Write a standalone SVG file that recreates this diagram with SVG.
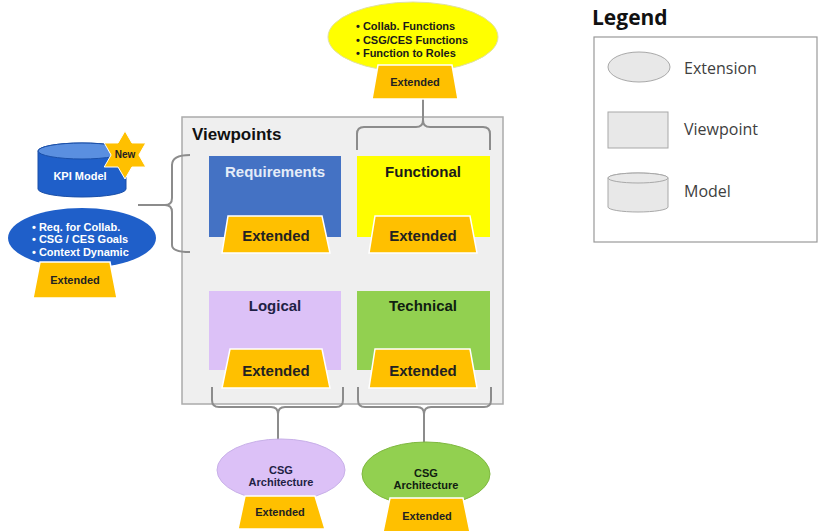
<svg xmlns="http://www.w3.org/2000/svg" width="821" height="531" viewBox="0 0 821 531">
<style>
.b{font-family:"Liberation Sans",Arial,sans-serif;font-weight:bold}
.ext{fill:#ffc000;stroke:#ffffff;stroke-width:1.5}
.et{font-family:"Liberation Sans",Arial,sans-serif;font-weight:bold;fill:#222;text-anchor:middle}
.br{fill:none;stroke:#8c8c8c;stroke-width:2}
.lg{font-family:"Open Sans","Noto Sans",sans-serif;fill:#404040;font-size:16px}
</style>
<rect width="821" height="531" fill="#ffffff"/>
<g id="viewpoints">
<rect x="182" y="117" width="321" height="287" fill="#efefef" stroke="#ababab" stroke-width="1.5"/>
<text x="192" y="140" class="b" font-size="17" fill="#111">Viewpoints</text>
</g>
<g id="connectors">
<path class="br" d="M357,150 L357,134 Q357,127 364,127 L416,127 Q423,127 423,120 Q423,127 430,127 L483,127 Q490,127 490,134 L490,150"/>
<line class="br" x1="423" y1="120" x2="423" y2="98"/>
<path class="br" d="M190,155 Q172,155 172,165 L172,198 Q172,205 165,205 Q172,205 172,212 L172,245 Q172,252 190,252"/>
<line class="br" x1="138" y1="205" x2="165" y2="205"/>
<path class="br" d="M212,387 L212,400 Q212,407 219,407 L271,407 Q278,407 278,414 Q278,407 285,407 L336,407 Q343,407 343,400 L343,387"/>
<line class="br" x1="278" y1="414" x2="278" y2="440"/>
<path class="br" d="M358,387 L358,400 Q358,407 365,407 L417,407 Q424,407 424,414 Q424,407 431,407 L484,407 Q491,407 491,400 L491,387"/>
<line class="br" x1="424" y1="414" x2="424" y2="443"/>
</g>
<g id="requirements">
<rect x="209" y="156" width="132" height="81" fill="#4472c4"/>
<text x="275" y="177" class="b" font-size="15" fill="#e4ecf8" text-anchor="middle">Requirements</text>
<polygon class="ext" points="228,216 322,216 330,253 222,253"/>
<text x="276" y="241" class="et" font-size="15">Extended</text>
</g>
<g id="functional">
<rect x="357" y="156" width="133" height="81" fill="#ffff00"/>
<text x="423" y="177" class="b" font-size="15" fill="#1a1a1a" text-anchor="middle">Functional</text>
<polygon class="ext" points="375,216 470,216 477,253 369,253"/>
<text x="423" y="241" class="et" font-size="15">Extended</text>
</g>
<g id="logical">
<rect x="209" y="291" width="132" height="79" fill="#dcc1f7"/>
<text x="275" y="311" class="b" font-size="15" fill="#1f1f45" text-anchor="middle">Logical</text>
<polygon class="ext" points="230,349 322,349 330,388 222,388"/>
<text x="276" y="376" class="et" font-size="15">Extended</text>
</g>
<g id="technical">
<rect x="357" y="291" width="133" height="79" fill="#92d050"/>
<text x="423" y="311" class="b" font-size="15" fill="#102010" text-anchor="middle">Technical</text>
<polygon class="ext" points="375,349 470,349 477,388 369,388"/>
<text x="423" y="376" class="et" font-size="15">Extended</text>
</g>
<g id="functional-extension">
<ellipse cx="413" cy="37" rx="85" ry="35" fill="#ffff00" stroke="#e0e0a0" stroke-width="1"/>
<text class="b" font-size="11" fill="#1a1a1a">
<tspan x="356" y="30">• Collab. Functions</tspan>
<tspan x="356" y="44">• CSG/CES Functions</tspan>
<tspan x="356" y="57">• Function to Roles</tspan>
</text>
<polygon class="ext" points="378,65 452,65 458,99 372,99"/>
<text x="415" y="86" class="et" font-size="11">Extended</text>
</g>
<g id="kpi-model">
<path d="M38,151 A44,8 0 0 1 126,151 L126,189 A44,8 0 0 1 38,189 Z" fill="#1f5fc9" stroke="#1a4fa8" stroke-width="1"/>
<ellipse cx="82" cy="151" rx="44" ry="8" fill="#5a8fe0" stroke="#1a4fa8" stroke-width="1"/>
<text x="80" y="180" class="b" font-size="11" fill="#ffffff" text-anchor="middle">KPI Model</text>
</g>
<g id="new-star">
<polygon points="125,131 131.95,142.96 145.78,143 138.9,155 145.78,167 131.95,167.04 125,179 118.05,167.04 104.22,167 111.1,155 104.22,143 118.05,142.96" fill="#ffc000" stroke="#ffffff" stroke-width="1"/>
<text x="125" y="158" class="b" font-size="10" fill="#222" text-anchor="middle">New</text>
</g>
<g id="requirements-extension">
<ellipse cx="82" cy="238" rx="74" ry="30" fill="#1f5fc9"/>
<text class="b" font-size="11" fill="#ffffff">
<tspan x="32" y="231">• Req. for Collab.</tspan>
<tspan x="32" y="243">• CSG / CES Goals</tspan>
<tspan x="32" y="256">• Context Dynamic</tspan>
</text>
<polygon class="ext" points="40,262 110,262 117,298 33,298"/>
<text x="75" y="284" class="et" font-size="11">Extended</text>
</g>
<g id="logical-extension">
<ellipse cx="281" cy="470" rx="64" ry="31" fill="#dcc1f7" stroke="#c8b0e8" stroke-width="1"/>
<text x="281" y="474" class="b" font-size="11" fill="#1f1f45" text-anchor="middle">CSG</text>
<text x="281" y="486" class="b" font-size="11" fill="#1f1f45" text-anchor="middle">Architecture</text>
<polygon class="ext" points="245,496 315,496 325,529 238,529"/>
<text x="280" y="516" class="et" font-size="11">Extended</text>
</g>
<g id="technical-extension">
<ellipse cx="426" cy="474" rx="64" ry="32" fill="#92d050" stroke="#7fb840" stroke-width="1"/>
<text x="426" y="477" class="b" font-size="11" fill="#102010" text-anchor="middle">CSG</text>
<text x="426" y="489" class="b" font-size="11" fill="#102010" text-anchor="middle">Architecture</text>
<polygon class="ext" points="390,498 463,498 470,532 383,532"/>
<text x="427" y="520" class="et" font-size="11">Extended</text>
</g>
<g id="legend">
<text x="592" y="25" font-family="'Open Sans','Noto Sans',sans-serif" font-weight="bold" font-size="21" fill="#111">Legend</text>
<rect x="594" y="37" width="223" height="205" fill="#ffffff" stroke="#999" stroke-width="1.2"/>
<ellipse cx="639" cy="67" rx="31" ry="15" fill="#e8e8e8" stroke="#a8a8a8" stroke-width="1"/>
<text x="684" y="74" class="lg">Extension</text>
<rect x="608" y="112" width="60" height="36" fill="#e8e8e8" stroke="#a8a8a8" stroke-width="1"/>
<text x="684" y="135" class="lg">Viewpoint</text>
<path d="M608,178 A30,5 0 0 1 668,178 L668,207 A30,5 0 0 1 608,207 Z" fill="#e8e8e8" stroke="#a8a8a8" stroke-width="1"/>
<ellipse cx="638" cy="178" rx="30" ry="5" fill="#e8e8e8" stroke="#a8a8a8" stroke-width="1"/>
<text x="684" y="197" class="lg">Model</text>
</g>
</svg>
